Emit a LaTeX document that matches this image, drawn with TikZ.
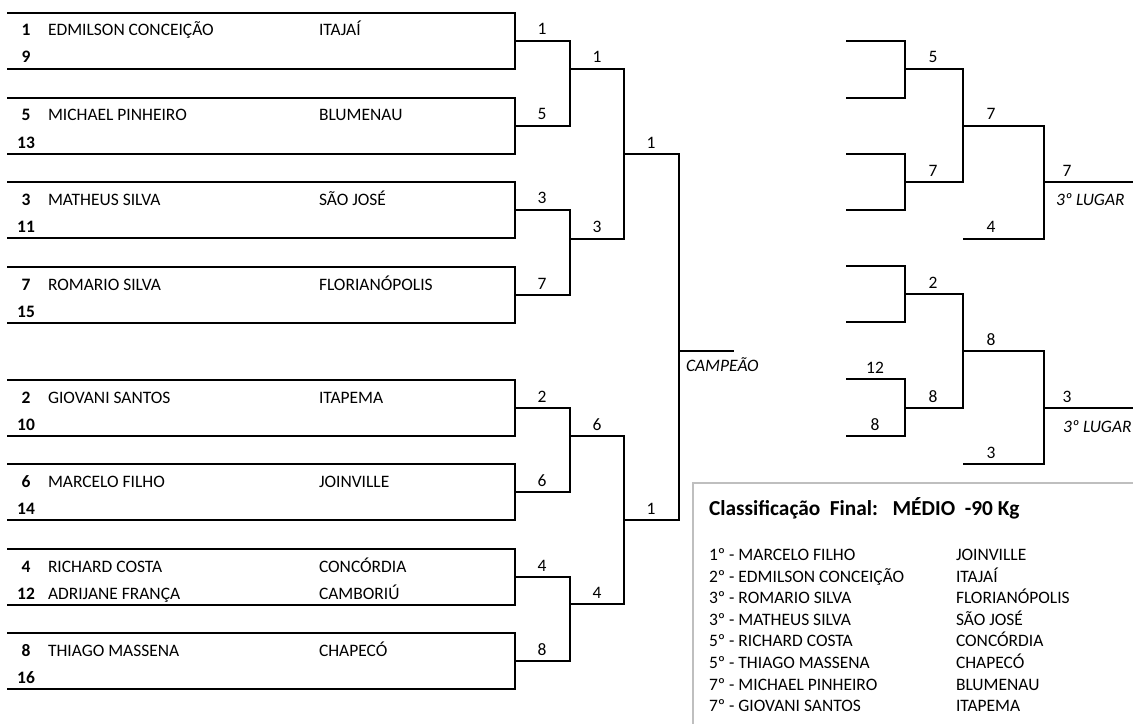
\documentclass[tikz,border=0pt]{standalone}
\usepackage{fontspec}
\setmainfont{Carlito}
\usepackage{tikz}
\usetikzlibrary{positioning}
\definecolor{framegray}{RGB}{191, 191, 191}

\begin{document}
\begin{tikzpicture}[x=0.75pt, y=-0.75pt, line width=1.5pt,
  entry/.style={font=\fontsize{13.1}{15}\selectfont, inner sep=0pt, anchor=base west},
  seed/.style={font=\fontsize{13.1}{15}\selectfont\bfseries, inner sep=0pt, anchor=base},
  score/.style={font=\fontsize{13.1}{15}\selectfont, inner sep=0pt, anchor=base},
  place/.style={font=\fontsize{13.1}{15}\selectfont\itshape, inner sep=0pt, anchor=base west}]
  \useasboundingbox (0,0) rectangle (1133,724);

  % pool boxes
  \foreach \i/\t/\sa/\na/\ca/\sb in {
      1/13/1/EDMILSON CONCEIÇÃO/ITAJAÍ/9,
      2/98/5/MICHAEL PINHEIRO/BLUMENAU/13,
      3/182/3/MATHEUS SILVA/SÃO JOSÉ/11,
      4/267/7/ROMARIO SILVA/FLORIANÓPOLIS/15,
      5/380/2/GIOVANI SANTOS/ITAPEMA/10,
      6/464/6/MARCELO FILHO/JOINVILLE/14,
      7/549/4/RICHARD COSTA/CONCÓRDIA/12,
      8/633/8/THIAGO MASSENA/CHAPECÓ/16}{
    \draw (7,\t) -- (515,\t) -- (515,\t+56) -- (7,\t+56);
    \coordinate (p\i) at (515,\t+28);
    \node[seed] (sa\i) at (26,\t+23) {\sa};
    \node[entry] (na\i) at (47,\t+23) {\na};
    \node[entry] (ca\i) at (318,\t+23) {\ca};
    \node[seed] (sb\i) at (26,\t+50) {\sb};
  }
  \node[entry] (nb7) at (47,599) {ADRIJANE FRANÇA};
  \node[entry] (cb7) at (318,599) {CAMBORIÚ};

  % main bracket
  \coordinate (q1) at (624,69);
  \coordinate (q2) at (624,239);
  \coordinate (q3) at (624,436);
  \coordinate (q4) at (624,604);
  \coordinate (f1) at (679,154);
  \coordinate (f2) at (679,520);
  \coordinate (champ) at (734,351);
  \draw (p1) -| (570,126) -- (p2);
  \draw (p3) -| (570,295) -- (p4);
  \draw (p5) -| (570,492) -- (p6);
  \draw (p7) -| (570,661) -- (p8);
  \draw (570,69) -- (q1) -- (q2) -- (570,239);
  \draw (570,436) -- (q3) -- (q4) -- (570,604);
  \draw (624,154) -- (f1) -- (f2) -- (624,520);
  \draw (679,351) -- (champ);
  \node[place] (campeao) at (685,371) {CAMPEÃO};

  % repechage
  \coordinate (ra) at (963,69);
  \coordinate (rb) at (963,182);
  \coordinate (rc) at (1044,126);
  \coordinate (rd) at (1044,239);
  \coordinate (bronzeA) at (1133,182);
  \draw (846,41) -| (905,98) -- (846,98);
  \draw (846,154) -| (905,210) -- (846,210);
  \draw (905,69) -- (ra) -- (rb) -- (905,182);
  \draw (963,126) -- (rc) -- (rd) -- (963,239);
  \draw (1044,182) -- (bronzeA);
  \node[place] (lugarA) at (1055,205) {3º LUGAR};

  \coordinate (sa) at (963,294);
  \coordinate (sb) at (963,408);
  \coordinate (sc) at (1044,351);
  \coordinate (sd) at (1044,464);
  \coordinate (bronzeB) at (1133,408);
  \draw (846,266) -| (905,322) -- (846,322);
  \draw (846,379) -| (905,436) -- (846,436);
  \draw (905,294) -- (sa) -- (sb) -- (905,408);
  \draw (963,351) -- (sc) -- (sd) -- (963,464);
  \draw (1044,408) -- (bronzeB);
  \node[place] (lugarB) at (1062,432) {3º LUGAR};

  % scores
  \foreach \n/\x/\y/\v in {
      m1/542/41/1, m2/542/126/5, m3/542/210/3, m4/542/295/7,
      m5/542/408/2, m6/542/492/6, m7/542/577/4, m8/542/661/8,
      s1/597/69/1, s2/597/239/3, s3/597/436/6, s4/597/604/4,
      t1/651/154/1, t2/651/520/1,
      ra1/933/69/5, ra2/933/182/7, ra3/991/126/7, ra4/991/239/4, ra5/1067/182/7,
      rb1/933/294/2, rb2/875/379/12, rb3/875/436/8, rb4/933/408/8,
      rb5/991/351/8, rb6/991/464/3, rb7/1067/408/3}{
    \node[score] (\n) at (\x,\y-6) {\v};
  }

  % final classification
  \draw[framegray] (1133,483) -- (693,483) -- (693,724);
  \node[entry, font=\fontsize{16}{18}\selectfont\bfseries] (title) at (708,515)
    {Classificação\ \ Final:\ \ \ MÉDIO\ \ -90 Kg};
  \foreach \r/\n/\c [count=\k from 0] in {
      1º/MARCELO FILHO/JOINVILLE,
      2º/EDMILSON CONCEIÇÃO/ITAJAÍ,
      3º/ROMARIO SILVA/FLORIANÓPOLIS,
      3º/MATHEUS SILVA/SÃO JOSÉ,
      5º/RICHARD COSTA/CONCÓRDIA,
      5º/THIAGO MASSENA/CHAPECÓ,
      7º/MICHAEL PINHEIRO/BLUMENAU,
      7º/GIOVANI SANTOS/ITAPEMA}{
    \node[entry] (cn\k) at (708,560.5+21.6*\k) {\r\ - \n};
    \node[entry] (cc\k) at (955,560.5+21.6*\k) {\c};
  }
\end{tikzpicture}
\end{document}
